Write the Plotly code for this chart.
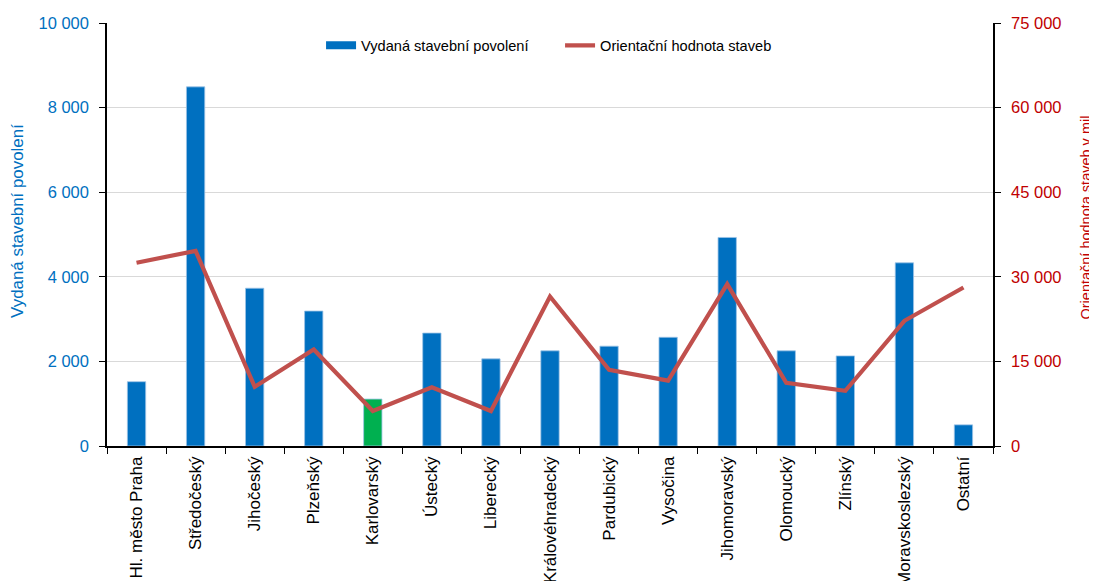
import plotly.graph_objects as go

categories = ["Hl. město Praha", "Středočeský", "Jihočeský", "Plzeňský", "Karlovarský",
              "Ústecký", "Liberecký", "Královéhradecký", "Pardubický", "Vysočina",
              "Jihomoravský", "Olomoucký", "Zlínský", "Moravskoslezský", "Ostatní"]
permits = [1520, 8490, 3730, 3190, 1110, 2670, 2060, 2250, 2360, 2570, 4930, 2250, 2130, 4330, 500]
value_mil = [32500, 34600, 10500, 17100, 6200, 10400, 6200, 26500, 13500, 11600, 28700, 11200, 9800, 22200, 28100]
left_ticks = [0, 2000, 4000, 6000, 8000, 10000]
right_ticks = [0, 15000, 30000, 45000, 60000, 75000]

BLUE = "#0070C0"
GREEN = "#00B050"
RED_LINE = "#C0504D"
RED_TXT = "#C00000"
FONT = "Liberation Sans, Arial, sans-serif"

def fmt(v):
    return f"{v:,}".replace(",", " ")

bar_colors = [GREEN if c == "Karlovarský" else BLUE for c in categories]

fig = go.Figure()
fig.add_trace(go.Bar(
    x=categories, y=permits, name="Vydaná stavební povolení",
    marker=dict(color=bar_colors, line=dict(color="#9DC3E6", width=0.8)),
    width=0.31, showlegend=False, yaxis="y"))
# legend entry for bars
fig.add_trace(go.Scatter(
    x=[None], y=[None], mode="lines", name="Vydaná stavební povolení",
    line=dict(color=BLUE, width=8), yaxis="y"))
fig.add_trace(go.Scatter(
    x=categories, y=value_mil, mode="lines", name="Orientační hodnota staveb",
    line=dict(color=RED_LINE, width=4.2), yaxis="y2"))

fig.update_layout(
    width=1097, height=581,
    margin=dict(l=99, r=112, t=15, b=143, autoexpand=False),
    paper_bgcolor="white", plot_bgcolor="white",
    font=dict(family=FONT, size=15, color="black"),
    showlegend=True,
    legend=dict(orientation="h", x=0.2416, xanchor="left", y=0.985, yanchor="top",
                font=dict(size=14.6, color="black"), bgcolor="rgba(0,0,0,0)",
                entrywidth=194, entrywidthmode="pixels", tracegroupgap=0),
    xaxis=dict(
        type="category", tickangle=-90, tickson="boundaries",
        ticks="outside", ticklen=6, tickcolor="black", ticklabelstandoff=2,
        showline=True, linecolor="black", linewidth=1.5,
        showgrid=False, automargin=False,
        tickfont=dict(size=17, color="black"),
        range=[-0.5, len(categories) - 0.5]),
    yaxis=dict(
        range=[0, 10000], tickvals=left_ticks, ticktext=[fmt(v) for v in left_ticks],
        ticks="outside", ticklen=6, tickcolor="black", ticklabelstandoff=7,
        showline=True, linecolor="black", linewidth=1.5,
        showgrid=True, gridcolor="#D9D9D9", gridwidth=1.2,
        tickfont=dict(size=16.5, color=BLUE),
        automargin=False, zeroline=False),
    yaxis2=dict(
        range=[0, 75000], tickvals=right_ticks, ticktext=[fmt(v) for v in right_ticks],
        overlaying="y", side="right",
        ticks="outside", ticklen=6, tickcolor="black", ticklabelstandoff=7,
        showline=True, linecolor="black", linewidth=1.5,
        showgrid=False, zeroline=False,
        tickfont=dict(size=16.5, color=RED_TXT),
        automargin=False),
    annotations=[
        dict(text="Vydaná stavební povolení", textangle=-90, showarrow=False,
             xref="paper", yref="paper", x=-0.1005, y=0.532,
             xanchor="center", yanchor="middle",
             font=dict(size=16.9, color=BLUE)),
        dict(text="Orientační hodnota staveb v mil.", textangle=-90, showarrow=False,
             xref="paper", yref="paper", x=1.105, y=0.545,
             xanchor="center", yanchor="middle",
             font=dict(size=14.5, color=RED_TXT)),
    ],
)

fig.write_html("out.html")
